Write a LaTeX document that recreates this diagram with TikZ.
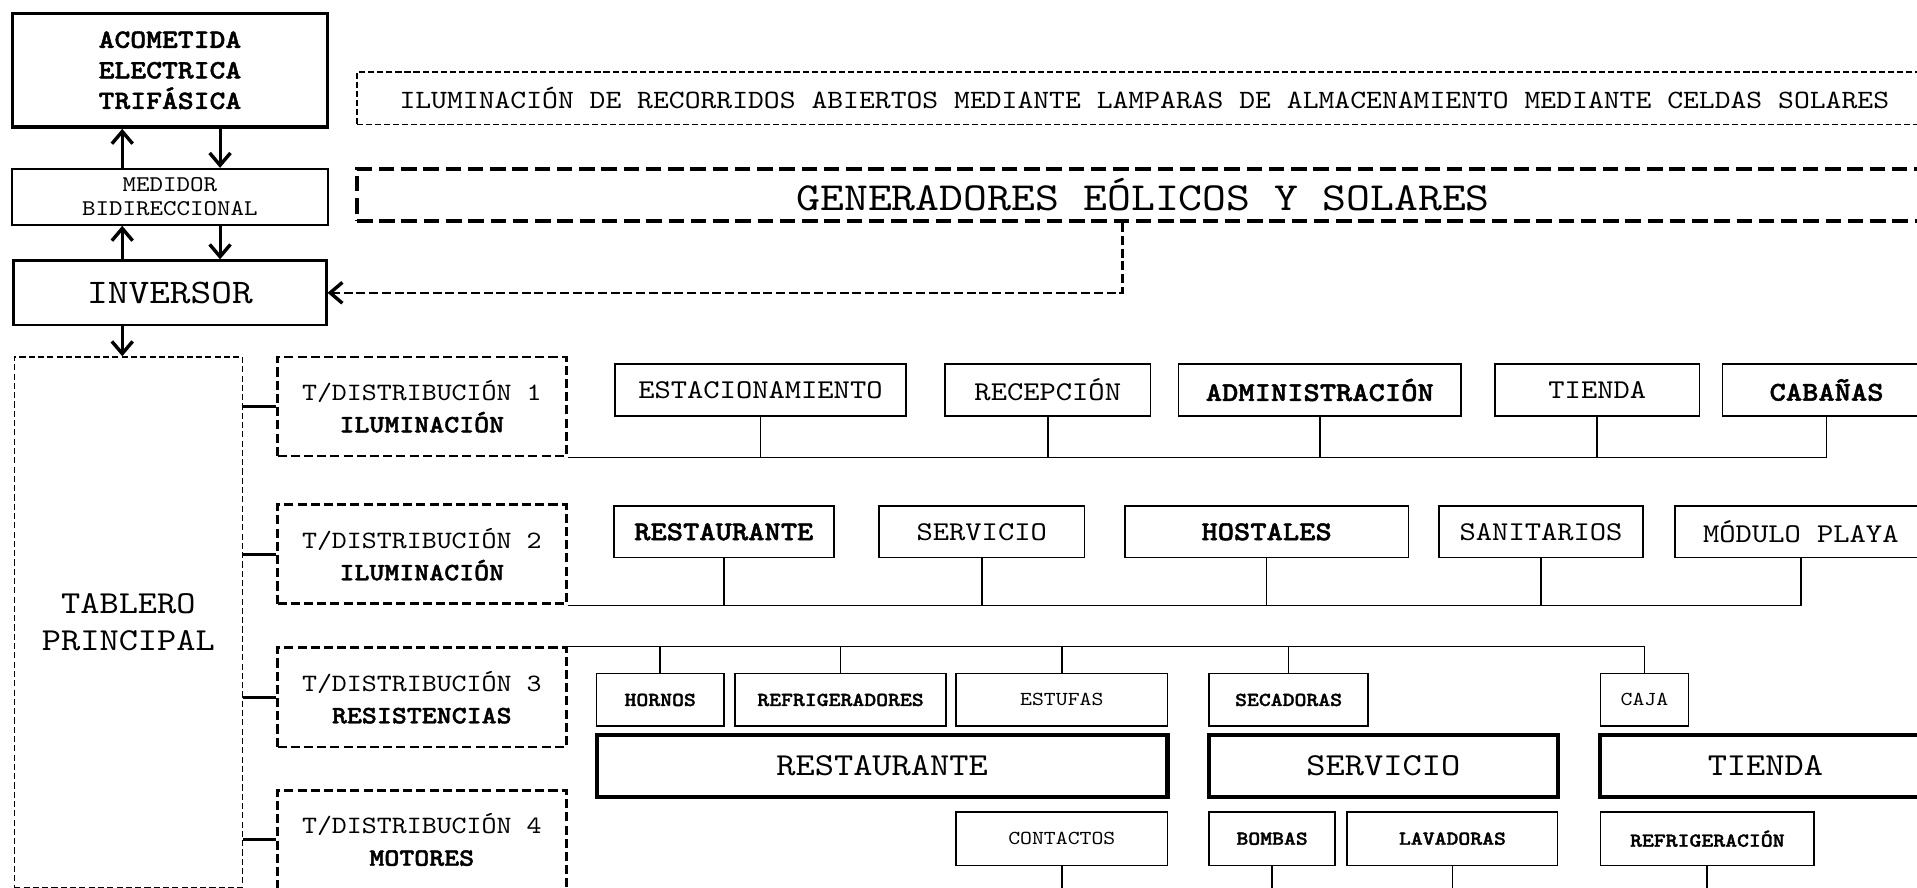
\documentclass[tikz,border=0pt]{standalone}
\usepackage{fontspec}
\setmainfont[BoldFont=lmmonolt10-bold.otf, BoldFeatures={FakeBold=1.6}, FakeStretch=1.143]{lmmono10-regular.otf}
\usetikzlibrary{arrows.meta}

\begin{document}
\begin{tikzpicture}[x=0.5pt, y=-0.5pt, >={Straight Barb[length=5pt,width=8.5pt,line width=1.4pt]},
    box/.style={draw, inner sep=0pt, align=center},
    itembox/.style={box, line width=0.7pt, minimum height=21pt, font=\fontsize{11.1}{13}\selectfont},
    smallbox/.style={box, line width=0.7pt, minimum height=21.5pt, font=\fontsize{8.1}{10}\selectfont},
    areabox/.style={box, line width=1.7pt, minimum height=25.5pt, font=\fontsize{13.1}{15}\selectfont},
    panelbox/.style={box, line width=1.2pt, dash pattern=on 3.7pt off 1.7pt, minimum width=118pt, minimum height=40.5pt, font=\fontsize{10.2}{13}\selectfont},
    busline/.style={line width=0.7pt},
    tieline/.style={line width=1.2pt},
    flowarrow/.style={->, line width=1.2pt},
    feedline/.style={->, line width=1pt, dash pattern=on 3.7pt off 1.5pt}]
    \useasboundingbox (0,0) rectangle (1568,726);
    \clip (0,0) rectangle (1568,726);

    % Supply column
    \node[box, line width=1.4pt, minimum width=129pt, minimum height=46.5pt, font=\fontsize{10.8}{12.5}\selectfont\bfseries] (acom) at (139,57.5) {ACOMETIDA\\ELECTRICA\\TRIFÁSICA};
    \node[box, line width=0.7pt, minimum width=129pt, minimum height=23pt, font=\fontsize{9.2}{9.6}\selectfont] (med) at (139,161) {MEDIDOR\\BIDIRECCIONAL};
    \node[box, line width=0.9pt, minimum width=128pt, minimum height=26.5pt, font=\fontsize{14.1}{16}\selectfont] (inv) at (139,239.5) {INVERSOR};
    \node[box, line width=0.6pt, dash pattern=on 2.5pt off 1.3pt, minimum width=93.3pt, minimum height=217pt, font=\fontsize{13.1}{15}\selectfont] (tab) at (105,509) {TABLERO\\PRINCIPAL};

    \draw[flowarrow] ([xshift=-19.5pt]med.north) -- ([xshift=-19.5pt]acom.south);
    \draw[flowarrow] ([xshift=20.5pt]acom.south) -- ([xshift=20.5pt]med.north);
    \draw[flowarrow] ([xshift=-19.5pt]inv.north) -- ([xshift=-19.5pt]med.south);
    \draw[flowarrow] ([xshift=20.5pt]med.south) -- ([xshift=20.5pt]inv.north);
    \draw[flowarrow] ([xshift=-19.5pt]inv.south) -- ([xshift=-19.5pt]inv.south |- tab.north);

    % Generation
    \node[box, line width=0.6pt, dash pattern=on 2.5pt off 1.2pt, minimum width=644pt, minimum height=21.5pt, font=\fontsize{10.8}{13}\selectfont] (ilum) at (936,80.5) {ILUMINACIÓN DE RECORRIDOS ABIERTOS MEDIANTE LAMPARAS DE ALMACENAMIENTO MEDIANTE CELDAS SOLARES};
    \node[box, line width=1.6pt, dash pattern=on 6.4pt off 2.7pt, minimum width=643pt, minimum height=21.5pt, font=\fontsize{16.3}{18}\selectfont] (gen) at (935,159.5) {GENERADORES EÓLICOS Y SOLARES};
    \draw[feedline] ([xshift=-8.5pt]gen.south) |- (inv.east);

    % Distribution boards
    \node[panelbox] (td1) at (345,332.5) {T/DISTRIBUCIÓN 1\\\textbf{ILUMINACIÓN}};
    \node[panelbox] (td2) at (345,453.5) {T/DISTRIBUCIÓN 2\\\textbf{ILUMINACIÓN}};
    \node[panelbox] (td3) at (345,570.5) {T/DISTRIBUCIÓN 3\\\textbf{RESISTENCIAS}};
    \node[panelbox] (td4) at (345,687) {T/DISTRIBUCIÓN 4\\\textbf{MOTORES}};

    \draw[tieline] (tab.east |- td1.west) -- (td1.west);
    \draw[tieline] (tab.east |- td2.west) -- (td2.west);
    \draw[tieline] (tab.east |- td3.west) -- (td3.west);
    \draw[tieline] (tab.east |- td4.west) -- (td4.west);

    % Row 1
    \node[itembox, minimum width=119pt] (est) at (622,319) {ESTACIONAMIENTO};
    \node[itembox, minimum width=84pt] (rec) at (857,319) {RECEPCIÓN};
    \node[itembox, minimum width=115.5pt] (adm) at (1079.5,319) {\textbf{ADMINISTRACIÓN}};
    \node[itembox, minimum width=83.5pt] (tie) at (1306.5,319) {TIENDA};
    \node[itembox, minimum width=85pt] (cab) at (1494,319) {\textbf{CABAÑAS}};

    \draw[busline] (td1.south east) -| (cab.south);
    \draw[busline] (est.south) -- (est.south |- td1.south);
    \draw[busline] (rec.south) -- (rec.south |- td1.south);
    \draw[busline] (adm.south) -- (adm.south |- td1.south);
    \draw[busline] (tie.south) -- (tie.south |- td1.south);

    % Row 2
    \node[itembox, minimum width=90pt] (res) at (592,435) {\textbf{RESTAURANTE}};
    \node[itembox, minimum width=84pt] (ser) at (803,435) {SERVICIO};
    \node[itembox, minimum width=116pt] (hos) at (1036,435) {\textbf{HOSTALES}};
    \node[itembox, minimum width=83.5pt] (san) at (1260.5,435) {SANITARIOS};
    \node[itembox, minimum width=103pt] (mod) at (1473,435) {MÓDULO PLAYA};

    \draw[busline] (td2.south east) -| (mod.south);
    \draw[busline] (res.south) -- (res.south |- td2.south);
    \draw[busline] (ser.south) -- (ser.south |- td2.south);
    \draw[busline] (hos.south) -- (hos.south |- td2.south);
    \draw[busline] (san.south) -- (san.south |- td2.south);

    % Row 3
    \node[smallbox, minimum width=52pt] (hor) at (540,572.5) {\textbf{HORNOS}};
    \node[smallbox, minimum width=86.5pt] (ref) at (687.5,572.5) {\textbf{REFRIGERADORES}};
    \node[smallbox, minimum width=86.5pt] (estu) at (868.5,572.5) {ESTUFAS};
    \node[smallbox, minimum width=65pt] (sec) at (1054,572.5) {\textbf{SECADORAS}};
    \node[smallbox, minimum width=36pt] (caja) at (1345,572.5) {CAJA};

    \draw[busline] (td3.north east) -| (caja.north);
    \draw[busline] (hor.north) -- (hor.north |- td3.north);
    \draw[busline] (ref.north) -- (ref.north |- td3.north);
    \draw[busline] (estu.north) -- (estu.north |- td3.north);
    \draw[busline] (sec.north) -- (sec.north |- td3.north);

    % Areas
    \node[areabox, minimum width=233.5pt] (ares) at (721.5,626.5) {RESTAURANTE};
    \node[areabox, minimum width=142.5pt] (aser) at (1131.5,626.5) {SERVICIO};
    \node[areabox, minimum width=135pt] (atie) at (1444,626.5) {TIENDA};

    % Row 4
    \node[smallbox, minimum width=86.5pt, minimum height=22pt] (con) at (868.5,686) {CONTACTOS};
    \node[smallbox, minimum width=51.5pt, minimum height=22pt] (bom) at (1040.5,686) {\textbf{BOMBAS}};
    \node[smallbox, minimum width=86pt, minimum height=22pt] (lav) at (1188,686) {\textbf{LAVADORAS}};
    \node[smallbox, minimum width=87.5pt, minimum height=22pt] (refr) at (1396.5,686) {\textbf{REFRIGERACIÓN}};

    \draw[busline] (td4.south east) -| (refr.south);
    \draw[busline] (con.south) -- (con.south |- td4.south);
    \draw[busline] (bom.south) -- (bom.south |- td4.south);
    \draw[busline] (lav.south) -- (lav.south |- td4.south);
\end{tikzpicture}
\end{document}
